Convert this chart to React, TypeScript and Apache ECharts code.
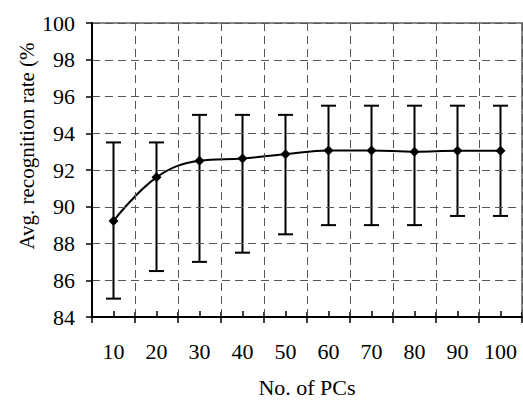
import React, { useEffect, useRef } from "react";
import * as echarts from "echarts";

const categories = ["10", "20", "30", "40", "50", "60", "70", "80", "90", "100"];
const means = [89.23, 91.6, 92.5, 92.63, 92.86, 93.06, 93.06, 93.0, 93.05, 93.05];
const upper = [93.5, 93.5, 95.0, 95.0, 95.0, 95.5, 95.5, 95.5, 95.5, 95.5];
const lower = [85.0, 86.5, 87.0, 87.5, 88.5, 89.0, 89.0, 89.0, 89.5, 89.5];
const xTitle = "No. of PCs";
const yTitle = "Avg. recognition rate (%";

const FONT = "'Liberation Serif'";

export default function App() {
  const ref = useRef<HTMLDivElement>(null);
  useEffect(() => {
    if (!ref.current) return;
    const chart = echarts.init(ref.current, null, { renderer: "svg" });
    const dashed = { type: [8, 5] as any, color: "#555", width: 1 };
    const hiddenAxisBase = {
      type: "category" as const,
      data: categories,
      position: "bottom" as const,
      axisLine: { show: false },
      axisLabel: { show: false },
      splitLine: { show: false },
    };
    chart.setOption({
      animation: false,
      grid: {
        left: 92,
        top: 23,
        right: 1,
        bottom: 83,
        show: true,
        borderColor: "#888",
        borderWidth: 2,
      },
      graphic: [
        {
          type: "text",
          x: 27,
          y: 146,
          rotation: Math.PI / 2,
          style: {
            text: yTitle,
            font: `21px ${FONT}`,
            fill: "#000",
            textAlign: "center",
            textVerticalAlign: "middle",
          },
        },
      ],
      xAxis: [
        {
          type: "category",
          data: categories,
          position: "bottom",
          boundaryGap: true,
          name: xTitle,
          nameLocation: "middle",
          nameGap: 59,
          nameTextStyle: { fontFamily: FONT, fontSize: 22, color: "#000" },
          axisLine: { show: true, lineStyle: { color: "#000", width: 2 } },
          axisTick: { show: true, length: 6, lineStyle: { color: "#000", width: 1.5 } },
          axisLabel: { margin: 23, fontFamily: FONT, fontSize: 22, color: "#000" },
          splitLine: { show: true, lineStyle: dashed },
          z: 5,
        },
        {
          ...hiddenAxisBase,
          axisTick: { show: true, inside: true, length: 5, lineStyle: { color: "#000", width: 1.5 } },
        },
        {
          ...hiddenAxisBase,
          axisTick: {
            show: true,
            inside: true,
            alignWithLabel: true,
            length: 6,
            lineStyle: { color: "#000", width: 1.5 },
          },
        },
      ],
      yAxis: {
        type: "value",
        min: 84,
        max: 100,
        interval: 2,
        axisLine: { show: true, lineStyle: { color: "#000", width: 2 } },
        axisTick: { show: true, length: 6, lineStyle: { color: "#000", width: 1.5 } },
        axisLabel: { margin: 17, fontFamily: FONT, fontSize: 22, color: "#000" },
        splitLine: { show: true, lineStyle: dashed },
        z: 5,
      },
      series: [
        {
          type: "custom",
          xAxisIndex: 0,
          data: categories.map((c, i) => [i, lower[i], upper[i]]),
          encode: { x: 0, y: [1, 2] },
          z: 3,
          renderItem: (params: any, api: any) => {
            const idx = api.value(0);
            const lo = api.coord([idx, api.value(1)]);
            const hi = api.coord([idx, api.value(2)]);
            const hw = 7.5;
            const style = { stroke: "#000", lineWidth: 2 };
            return {
              type: "group",
              children: [
                { type: "line", shape: { x1: lo[0], y1: lo[1], x2: hi[0], y2: hi[1] }, style },
                { type: "line", shape: { x1: hi[0] - hw, y1: hi[1], x2: hi[0] + hw, y2: hi[1] }, style },
                { type: "line", shape: { x1: lo[0] - hw, y1: lo[1], x2: lo[0] + hw, y2: lo[1] }, style },
              ],
            };
          },
        },
        {
          type: "line",
          xAxisIndex: 0,
          data: means,
          smooth: 0.4,
          symbol: "diamond",
          symbolSize: 10,
          lineStyle: { color: "#000", width: 2 },
          itemStyle: { color: "#000" },
          z: 4,
        },
      ],
    });
    return () => chart.dispose();
  }, []);
  return (
    <div
      ref={ref}
      style={{ position: "fixed", left: 0, top: 0, width: 523, height: 403, background: "#fff" }}
    />
  );
}
